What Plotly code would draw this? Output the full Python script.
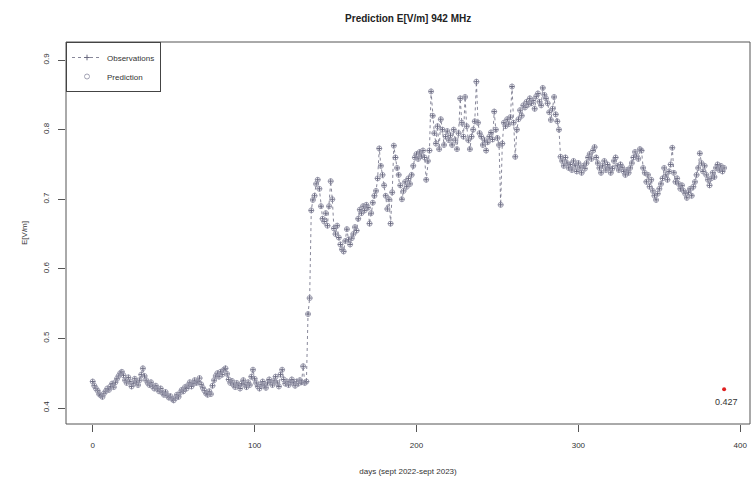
import plotly.graph_objects as go

observations = [
    0.438, 0.432, 0.428, 0.425, 0.420, 0.418, 0.416, 0.421, 0.424, 0.428,
    0.426, 0.431, 0.435, 0.430, 0.437, 0.442, 0.446, 0.450, 0.452, 0.447,
    0.440, 0.436, 0.444, 0.438, 0.431, 0.435, 0.442, 0.437, 0.433, 0.440,
    0.448, 0.457, 0.446, 0.440, 0.436, 0.433, 0.437, 0.431, 0.428, 0.432,
    0.427, 0.424, 0.428, 0.422, 0.419, 0.423, 0.418, 0.415, 0.417, 0.413,
    0.411, 0.414, 0.419, 0.416, 0.422, 0.426, 0.424, 0.430, 0.428, 0.433,
    0.437, 0.431, 0.435, 0.440, 0.436, 0.438, 0.443, 0.434, 0.429, 0.425,
    0.421, 0.419, 0.424, 0.420, 0.432, 0.440, 0.446, 0.450, 0.445, 0.452,
    0.448, 0.455, 0.457, 0.449, 0.441, 0.436, 0.439, 0.433, 0.430, 0.436,
    0.432, 0.428, 0.435, 0.440, 0.434, 0.430, 0.437, 0.433, 0.445, 0.455,
    0.442, 0.436, 0.431, 0.428, 0.434, 0.438, 0.432, 0.429, 0.436, 0.441,
    0.437, 0.433, 0.439, 0.445, 0.436, 0.431, 0.448, 0.455, 0.441, 0.435,
    0.438, 0.433, 0.437, 0.441, 0.436, 0.432, 0.438, 0.435, 0.440, 0.437,
    0.460, 0.436, 0.438, 0.535, 0.558, 0.684, 0.699, 0.705, 0.722, 0.728,
    0.715, 0.690, 0.672, 0.668, 0.680, 0.662, 0.690, 0.726, 0.700, 0.658,
    0.650, 0.662, 0.645, 0.635, 0.628, 0.625, 0.640, 0.657, 0.642, 0.635,
    0.644, 0.650, 0.660, 0.655, 0.672, 0.685, 0.680, 0.690, 0.684, 0.692,
    0.688, 0.665, 0.680, 0.695, 0.705, 0.712, 0.730, 0.773, 0.748, 0.735,
    0.720, 0.705, 0.686, 0.700, 0.665, 0.710, 0.777, 0.760, 0.745, 0.735,
    0.720, 0.700, 0.712, 0.725, 0.718, 0.730, 0.722, 0.735, 0.748, 0.760,
    0.765, 0.758, 0.768, 0.762, 0.770, 0.760, 0.728, 0.755, 0.770, 0.855,
    0.820, 0.795, 0.780, 0.805, 0.772, 0.815, 0.800, 0.778, 0.790, 0.798,
    0.785, 0.792, 0.778, 0.800, 0.785, 0.772, 0.795, 0.845, 0.810, 0.790,
    0.847, 0.805, 0.785, 0.772, 0.790, 0.800, 0.812, 0.869, 0.810, 0.795,
    0.790, 0.778, 0.785, 0.770, 0.782, 0.790, 0.796, 0.786, 0.826, 0.800,
    0.788, 0.778, 0.692, 0.780, 0.810, 0.805, 0.815, 0.808, 0.818, 0.862,
    0.810, 0.761, 0.800, 0.815, 0.828, 0.820, 0.835, 0.832, 0.840, 0.836,
    0.845, 0.838, 0.842, 0.830, 0.848, 0.852, 0.840, 0.835, 0.860, 0.850,
    0.845, 0.838, 0.825, 0.814, 0.830, 0.847, 0.822, 0.812, 0.800, 0.761,
    0.755, 0.748, 0.760, 0.752, 0.745, 0.750, 0.742, 0.755, 0.748, 0.740,
    0.752, 0.745, 0.738, 0.748, 0.744, 0.752, 0.760, 0.765, 0.758, 0.770,
    0.775, 0.760, 0.752, 0.745, 0.738, 0.748, 0.755, 0.742, 0.750, 0.745,
    0.738, 0.744, 0.755, 0.760, 0.748, 0.742, 0.750, 0.746, 0.740, 0.735,
    0.742, 0.738, 0.745, 0.752, 0.760, 0.768, 0.762, 0.758, 0.772, 0.770,
    0.745, 0.738, 0.725, 0.735, 0.718, 0.728, 0.712, 0.705, 0.699, 0.708,
    0.715, 0.722, 0.730, 0.745, 0.735, 0.728, 0.740, 0.750, 0.774, 0.738,
    0.725, 0.730, 0.722, 0.715, 0.720, 0.712, 0.708, 0.702, 0.710, 0.715,
    0.705, 0.718, 0.725, 0.735, 0.745, 0.766, 0.752, 0.740, 0.748, 0.735,
    0.728, 0.720, 0.730, 0.738, 0.732, 0.745, 0.750, 0.742, 0.748, 0.740,
    0.745,
]
days = list(range(len(observations)))
prediction = observations  # fitted values overlap the observations
next_day = [390]
next_value = [0.427]
x_ticks = [0, 100, 200, 300, 400]
y_ticks = [0.4, 0.5, 0.6, 0.7, 0.8, 0.9]

txt = "#333333"
fig = go.Figure()
fig.add_trace(go.Scatter(
    x=days, y=observations, name="Observations", mode="lines+markers",
    line=dict(color="#6a6a80", width=0.8, dash="dot"),
    marker=dict(symbol="cross-thin-open", size=4, line=dict(color="#50506a", width=1)),
))
fig.add_trace(go.Scatter(
    x=days, y=prediction, name="Prediction", mode="markers",
    marker=dict(symbol="circle-open", size=5, color="#9898ac", line=dict(width=0.9)),
))
fig.add_trace(go.Scatter(
    x=next_day, y=next_value, mode="markers", showlegend=False,
    marker=dict(symbol="circle", size=4, color="#e02020"),
))
annotations = [dict(x=d, y=v, text=f"{v:.3f}", showarrow=False, yshift=-13,
                    xshift=2, font=dict(size=9, color=txt))
               for d, v in zip(next_day, next_value)]

axis_common = dict(
    showgrid=False, zeroline=False, ticks="outside", ticklen=7, tickwidth=1,
    tickcolor="#555555", showline=False, tickfont=dict(size=8, color=txt,
    family="Liberation Sans"),
)
fig.update_layout(
    width=755, height=482,
    margin=dict(l=66, r=5, t=42, b=58),
    paper_bgcolor="white", plot_bgcolor="white",
    font=dict(family="Liberation Sans", color=txt),
    title=dict(text="<b>Prediction E[V/m] 942 MHz</b>", x=0.5406, xanchor="center",
               y=1 - 18 / 482, yanchor="middle", yref="container",
               font=dict(size=10, color="#222222")),
    xaxis=dict(range=[-16.5, 406], tickvals=x_ticks, ticktext=[str(v) for v in x_ticks],
               ticklabelstandoff=6,
               title=dict(text="days (sept 2022-sept 2023)", font=dict(size=8), standoff=19),
               **axis_common),
    yaxis=dict(range=[0.377, 0.926], tickvals=y_ticks, ticktext=[f"{v:.1f}" for v in y_ticks],
               tickangle=-90, ticklabelstandoff=6,
               title=dict(text="E[V/m]", font=dict(size=8), standoff=12),
               **axis_common),
    legend=dict(x=0, y=1, xanchor="left", yanchor="top", bgcolor="white",
                bordercolor="#444444", borderwidth=1, font=dict(size=8, color=txt),
                itemsizing="trace", tracegroupgap=0, itemwidth=30),
    annotations=annotations,
    shapes=[dict(type="rect", xref="paper", yref="paper", x0=0, y0=0, x1=1, y1=1,
                 line=dict(color="#555555", width=1))],
)
fig.write_html("out.html")
